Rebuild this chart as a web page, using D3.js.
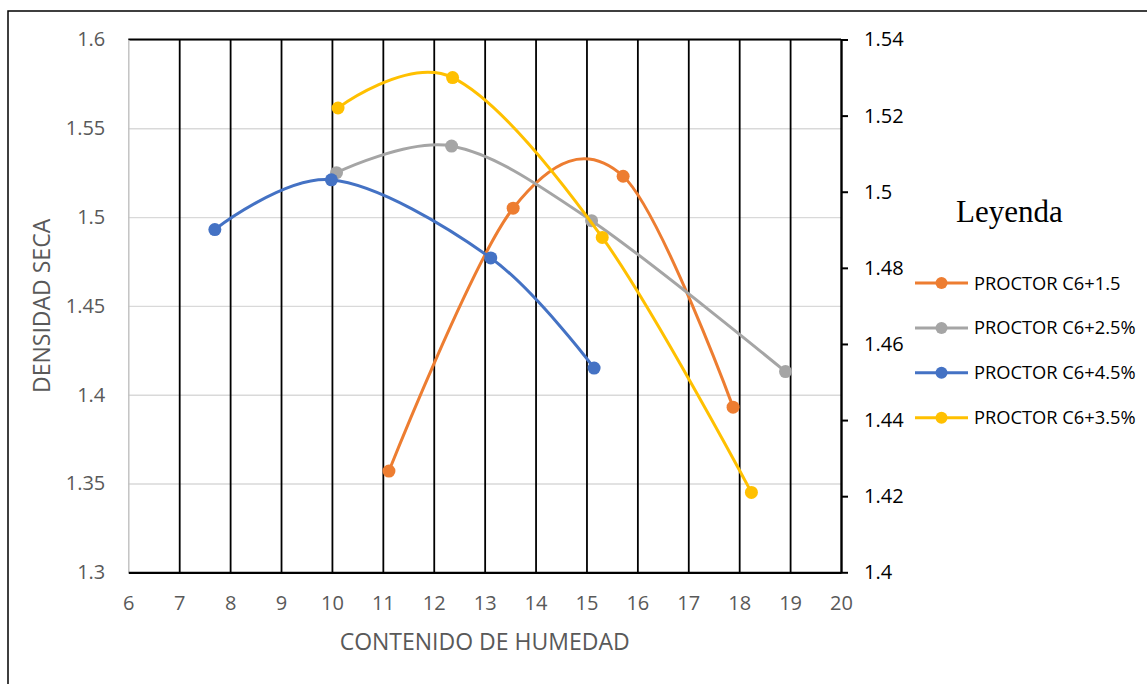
<!DOCTYPE html>
<html>
<head>
<meta charset="utf-8">
<script src="https://cdn.jsdelivr.net/npm/d3@7"></script>
<style>
  body { margin: 0; background: #fff; }
</style>
</head>
<body>
<svg id="chart"></svg>
<script>
// ticks
var xTicks = [6, 7, 8, 9, 10, 11, 12, 13, 14, 15, 16, 17, 18, 19, 20];
var leftTicks = [1.3, 1.35, 1.4, 1.45, 1.5, 1.55, 1.6];
var leftLabels = ["1.3", "1.35", "1.4", "1.45", "1.5", "1.55", "1.6"];
var rightTicks = [1.4, 1.42, 1.44, 1.46, 1.48, 1.5, 1.52, 1.54];
var rightLabels = ["1.4", "1.42", "1.44", "1.46", "1.48", "1.5", "1.52", "1.54"];

// series (humedad %, densidad seca)
var seriesNames = ["PROCTOR C6+1.5", "PROCTOR C6+2.5%", "PROCTOR C6+4.5%", "PROCTOR C6+3.5%"];
var seriesColors = ["#ED7D31", "#A5A5A5", "#4472C4", "#FFC000"];
var seriesAxis = ["left", "left", "left", "right"];

var humedad15 = [11.12, 13.56, 15.72, 17.88];
var densidad15 = [1.357, 1.505, 1.523, 1.393];
var humedad25 = [10.09, 12.35, 15.10, 18.91];
var densidad25 = [1.525, 1.540, 1.498, 1.413];
var humedad45 = [7.70, 9.99, 13.12, 15.15];
var densidad45 = [1.493, 1.521, 1.477, 1.415];
var humedad35 = [10.12, 12.37, 15.31, 18.24];
var densidad35 = [1.522, 1.530, 1.488, 1.421];

var humedades = [humedad15, humedad25, humedad45, humedad35];
var densidades = [densidad15, densidad25, densidad45, densidad35];

var W = 1147, H = 684;
var mLeft = 128.3, mTop = 39.5, mRight = 841, mBottom = 572.3;
var width = mRight - mLeft, height = mBottom - mTop;

var svg = d3.select("#chart")
    .attr("width", W)
    .attr("height", H)
    .attr("font-family", "Open Sans, sans-serif");

svg.append("rect").attr("width", W).attr("height", H).attr("fill", "#fff");

// outer frame
svg.append("rect")
   .attr("x", 8).attr("y", 11)
   .attr("width", 1300).attr("height", 800)
   .attr("fill", "none")
   .attr("stroke", "#000")
   .attr("stroke-width", 1.5);

var xScale = d3.scaleLinear().domain([6, 20]).range([0, width]),
    yLeft = d3.scaleLinear().domain([1.3, 1.6]).range([height, 0]),
    yRight = d3.scaleLinear().domain([1.4, 1.54]).range([height, 0]);

var g = svg.append("g")
           .attr("transform", "translate(" + mLeft + "," + mTop + ")");

// horizontal gridlines
g.append("g")
 .call(d3.axisLeft(yLeft).tickValues(leftTicks).tickSize(-width).tickFormat(""))
 .call(function(a) {
     a.select(".domain").remove();
     a.selectAll("line").attr("stroke", "#d9d9d9").attr("stroke-width", 1.4);
 });

// vertical gridlines (black)
g.append("g")
 .attr("transform", "translate(0," + height + ")")
 .call(d3.axisBottom(xScale).tickValues(xTicks.slice(1)).tickSize(-height).tickFormat(""))
 .call(function(a) {
     a.select(".domain").remove();
     a.selectAll("line").attr("stroke", "#000").attr("stroke-width", 1.8);
 });

// top border line
g.append("line")
 .attr("x1", 0).attr("x2", width).attr("y1", 0).attr("y2", 0)
 .attr("stroke", "#000").attr("stroke-width", 1.8);

// left axis
g.append("g")
 .call(d3.axisLeft(yLeft).tickValues(leftTicks).tickSize(0).tickPadding(23)
        .tickFormat(function(d, i) { return leftLabels[i]; }))
 .call(function(a) {
     a.select(".domain").attr("stroke", "#bfbfbf").attr("stroke-width", 1.4);
     a.selectAll("text").attr("fill", "#595959").attr("font-size", "20px")
      .attr("font-family", "Open Sans");
 });

// bottom axis
g.append("g")
 .attr("transform", "translate(0," + height + ")")
 .call(d3.axisBottom(xScale).tickValues(xTicks).tickSize(0).tickPadding(23.5))
 .call(function(a) {
     a.select(".domain").attr("stroke", "#000").attr("stroke-width", 2.2);
     a.selectAll("text").attr("fill", "#595959").attr("font-size", "20px")
      .attr("font-family", "Open Sans");
 });

// right axis
g.append("g")
 .attr("transform", "translate(" + width + ",0)")
 .call(d3.axisRight(yRight).tickValues(rightTicks).tickSizeInner(7).tickSizeOuter(0).tickPadding(16)
        .tickFormat(function(d, i) { return rightLabels[i]; }))
 .call(function(a) {
     a.select(".domain").attr("stroke", "#000").attr("stroke-width", 2);
     a.selectAll("line").attr("stroke", "#000").attr("stroke-width", 2);
     a.selectAll("text").attr("fill", "#000").attr("font-size", "20px")
      .attr("font-family", "Open Sans");
 });

// axis titles
svg.append("text")
   .attr("x", mLeft + width / 2)
   .attr("y", 650)
   .attr("text-anchor", "middle")
   .attr("font-size", "23px")
   .attr("fill", "#595959")
   .text("CONTENIDO DE HUMEDAD");

svg.append("text")
   .attr("transform", "translate(50," + (mTop + height / 2) + ") rotate(-90)")
   .attr("text-anchor", "middle")
   .attr("font-size", "23px")
   .attr("fill", "#595959")
   .text("DENSIDAD SECA");

// series
var line = d3.line().curve(d3.curveCardinal.tension(0));

seriesNames.forEach(function(name, s) {
    var yS = seriesAxis[s] == "right" ? yRight : yLeft;
    var pts = humedades[s].map(function(h, i) { return [xScale(h), yS(densidades[s][i])]; });

    var sg = g.append("g").attr("class", "series");
    sg.append("path")
      .attr("d", line(pts))
      .attr("fill", "none")
      .attr("stroke", seriesColors[s])
      .attr("stroke-width", 3)
      .attr("stroke-linecap", "round");

    sg.selectAll("circle")
      .data(pts)
      .enter().append("circle")
      .attr("cx", function(d) { return d[0]; })
      .attr("cy", function(d) { return d[1]; })
      .attr("r", 6.5)
      .attr("fill", seriesColors[s]);
});

// legend
svg.append("text")
   .attr("x", 956)
   .attr("y", 222)
   .attr("font-family", "Liberation Serif, serif")
   .attr("font-size", "31px")
   .attr("fill", "#000")
   .text("Leyenda");

var lg = svg.append("g");
seriesNames.forEach(function(name, s) {
    var yy = 283 + s * 44.9;
    lg.append("line")
      .attr("x1", 915).attr("x2", 968).attr("y1", yy).attr("y2", yy)
      .attr("stroke", seriesColors[s]).attr("stroke-width", 3);
    lg.append("circle")
      .attr("cx", 941.5).attr("cy", yy).attr("r", 6)
      .attr("fill", seriesColors[s]);
    lg.append("text")
      .attr("x", 974).attr("y", yy).attr("dy", "0.36em")
      .attr("font-size", "18.3px")
      .attr("fill", "#000")
      .text(name);
});
</script>
</body>
</html>
